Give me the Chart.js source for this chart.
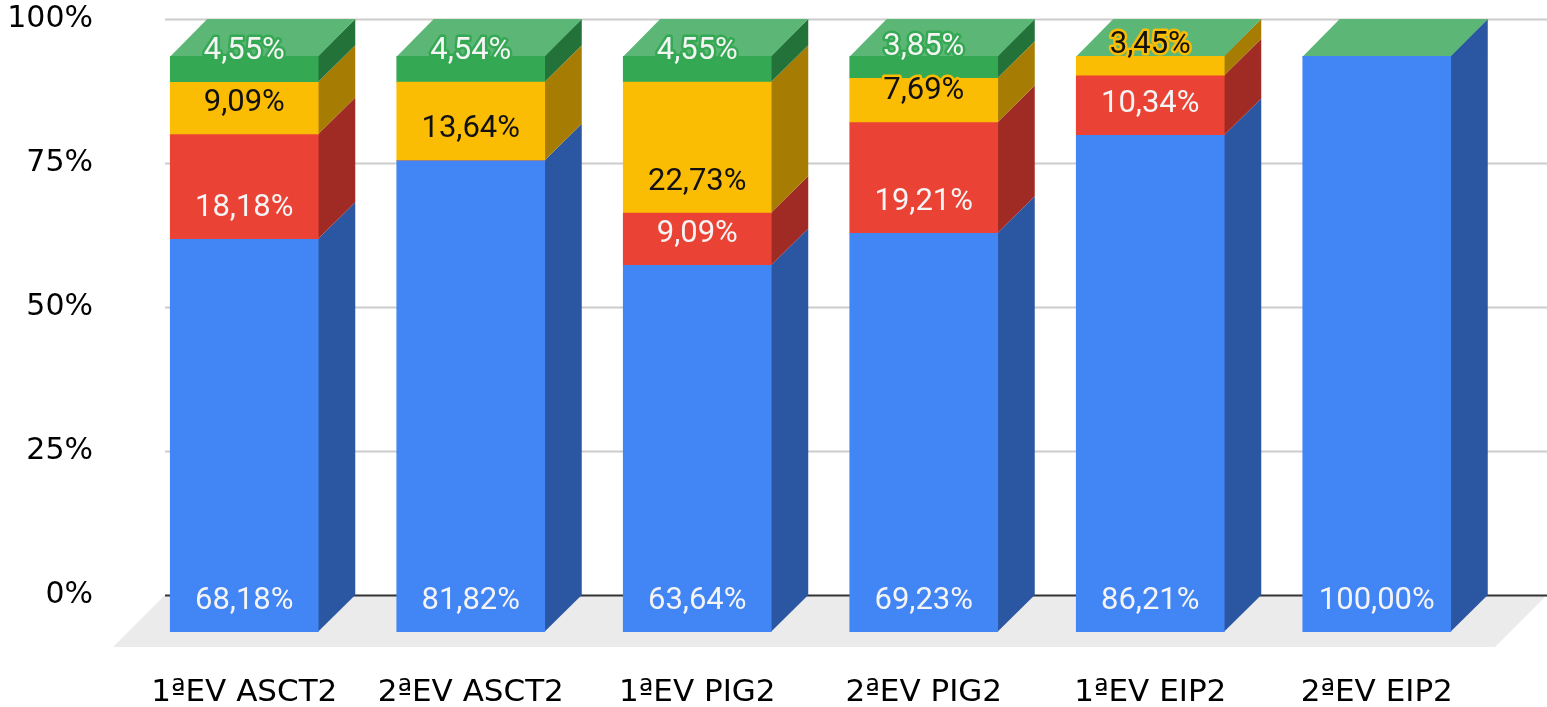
<!DOCTYPE html>
<html lang="es">
<head>
<meta charset="utf-8">
<title>Resultados por evaluación</title>
<script src="https://cdn.jsdelivr.net/npm/chart.js@4/dist/chart.umd.min.js"></script>
<style>
    html, body { margin: 0; padding: 0; background: #ffffff; }
    #grafico { display: block; }
</style>
</head>
<body>
<canvas id="grafico" width="1547" height="707"></canvas>
<script>
// Datos (porcentajes)
const categorias = ['1ªEV ASCT2', '2ªEV ASCT2', '1ªEV PIG2', '2ªEV PIG2', '1ªEV EIP2', '2ªEV EIP2'];
const serieAzul = [68.18, 81.82, 63.64, 69.23, 86.21, 100.00];
const serieRoja = [18.18, 0, 9.09, 19.21, 10.34, 0];
const serieAmarilla = [9.09, 13.64, 22.73, 7.69, 3.45, 0];
const serieVerde = [4.55, 4.54, 4.55, 3.85, 0, 0];
const ticksEjeY = [0, 25, 50, 75, 100];

// Colores: frente, lateral y texto de la etiqueta
const colores = [
    { frente: '#4285f4', lado: '#2b56a2', texto: '#f4f4f4' },
    { frente: '#ea4335', lado: '#a02b25', texto: '#f4f4f4' },
    { frente: '#fbbc04', lado: '#a67c02', texto: '#111111' },
    { frente: '#34a853', lado: '#22723a', texto: '#f4f4f4' }
];
const colorTapa = '#5cb776';
const profundidad = 37;

// Efecto 3D: suelo, líneas de fondo, laterales y tapas
const plugin3D = {
    id: 'barras3d',
    beforeDatasetsDraw(chart) {
        const { ctx, chartArea, scales } = chart;
        const y = scales.y;
        const d = profundidad;
        const izq = chartArea.left - 3;
        const der = chartArea.right + 20;
        const y0 = y.getPixelForValue(0);

        ctx.save();
        // suelo gris
        ctx.fillStyle = '#ebebeb';
        ctx.beginPath();
        ctx.moveTo(izq - 15, y0 + 15);
        ctx.lineTo(der - 15, y0 + 15);
        ctx.lineTo(der + d, y0 - d);
        ctx.lineTo(izq + d, y0 - d);
        ctx.closePath();
        ctx.fill();

        // líneas de la cuadrícula en el plano del fondo
        ticksEjeY.forEach(v => {
            const py = Math.round(y.getPixelForValue(v) - d) + 0.5;
            ctx.strokeStyle = v === 0 ? '#333333' : '#cccccc';
            ctx.lineWidth = 2;
            ctx.beginPath();
            ctx.moveTo(izq + d, py);
            ctx.lineTo(der + d, py);
            ctx.stroke();
        });

        // laterales de cada tramo
        chart.data.datasets.forEach((ds, i) => {
            const meta = chart.getDatasetMeta(i);
            meta.data.forEach((el, j) => {
                if (!ds.data[j]) return;
                const x2 = el.x + el.width / 2;
                const arriba = Math.min(el.y, el.base);
                const abajo = Math.max(el.y, el.base);
                ctx.fillStyle = colores[i].lado;
                ctx.beginPath();
                ctx.moveTo(x2 - 0.5, arriba);
                ctx.lineTo(x2 + d, arriba - d);
                ctx.lineTo(x2 + d, abajo - d);
                ctx.lineTo(x2 - 0.5, abajo);
                ctx.closePath();
                ctx.fill();
            });
        });

        // tapa superior (siempre del color de la última serie)
        const ultima = chart.getDatasetMeta(chart.data.datasets.length - 1);
        ultima.data.forEach(el => {
            const x1 = el.x - el.width / 2;
            const x2 = el.x + el.width / 2;
            ctx.fillStyle = colorTapa;
            ctx.beginPath();
            ctx.moveTo(x1, el.y + 0.5);
            ctx.lineTo(x1 + d, el.y - d);
            ctx.lineTo(x2 + d, el.y - d);
            ctx.lineTo(x2, el.y + 0.5);
            ctx.closePath();
            ctx.fill();
        });
        ctx.restore();
    },
    afterDatasetsDraw(chart) {
        const { ctx } = chart;
        ctx.save();
        ctx.font = '31px Roboto';
        ctx.textAlign = 'center';
        ctx.textBaseline = 'middle';
        ctx.lineJoin = 'round';
        chart.data.datasets.forEach((ds, i) => {
            const meta = chart.getDatasetMeta(i);
            meta.data.forEach((el, j) => {
                const valor = ds.data[j];
                if (!valor) return;
                const texto = valor.toFixed(2).replace('.', ',') + '%';
                const py = el.base - 31;
                ctx.strokeStyle = colores[i].frente;
                ctx.lineWidth = 5;
                ctx.strokeText(texto, el.x, py);
                ctx.fillStyle = colores[i].texto;
                ctx.fillText(texto, el.x, py);
            });
        });
        ctx.restore();
    }
};

const series = [
    { label: 'Serie 1', data: serieAzul },
    { label: 'Serie 2', data: serieRoja },
    { label: 'Serie 3', data: serieAmarilla },
    { label: 'Serie 4', data: serieVerde }
];

new Chart(document.getElementById('grafico'), {
    type: 'bar',
    data: {
        labels: categorias,
        datasets: series.map((s, i) => ({
            label: s.label,
            data: s.data,
            backgroundColor: colores[i].frente,
            borderWidth: 0,
            barThickness: 148
        }))
    },
    options: {
        responsive: false,
        devicePixelRatio: 1,
        animation: false,
        layout: {
            padding: { top: 56, right: 57, left: 0, bottom: 0 }
        },
        plugins: {
            legend: { display: false },
            tooltip: { enabled: false }
        },
        scales: {
            x: {
                stacked: true,
                grid: { display: false, drawTicks: false },
                border: { display: false },
                ticks: {
                    color: '#000000',
                    padding: 42,
                    font: { family: 'DejaVu Sans', size: 31 }
                },
                afterFit: s => { s.height = 75; }
            },
            y: {
                stacked: true,
                min: 0,
                max: 100,
                grid: { display: false, drawTicks: false },
                border: { display: false },
                ticks: {
                    stepSize: 25,
                    color: '#000000',
                    padding: 38,
                    labelOffset: -profundidad,
                    font: { family: 'DejaVu Sans', size: 30 },
                    callback: v => v + '%'
                },
                afterFit: s => { s.width = 131; }
            }
        }
    },
    plugins: [plugin3D]
});
</script>
</body>
</html>
